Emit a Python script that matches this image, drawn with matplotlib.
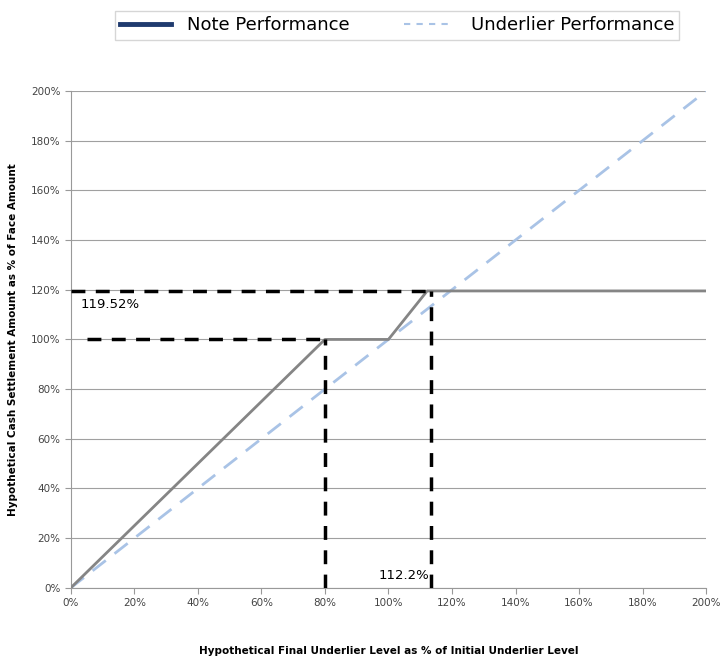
import numpy as np
import matplotlib.pyplot as plt
from matplotlib.lines import Line2D
from matplotlib.ticker import PercentFormatter

# values in percent
note_x = [0, 80, 100, 112.2, 200]
note_y = [0, 100, 100, 119.52, 119.52]
under_x = [0, 200]
under_y = [0, 200]
cap_level = 119.52
cap_x = 113.5
floor_x = 80
floor_level = 100

fig = plt.figure(figsize=(7.22, 6.62), dpi=100)
ax = fig.add_axes([0.098, 0.112, 0.88, 0.7505])

ax.plot(under_x, under_y, color='#a9c3e6', lw=2, dashes=(6, 4), zorder=3)
ax.plot(note_x, note_y, color='#858585', lw=2, zorder=4)

# reference dashed lines
blk = dict(color='black', lw=2.5, dashes=(4, 3), zorder=5)
ax.plot([0, cap_x], [cap_level, cap_level], **blk)
ax.plot([cap_x, cap_x], [0, cap_level], **blk)
ax.plot([5, floor_x], [floor_level, floor_level], **blk)
ax.plot([floor_x, floor_x], [0, floor_level], **blk)

ax.text(3, 114, '119.52%', fontsize=9.5, va='center', ha='left')
ax.text(113, 5, '112.2%', fontsize=9.5, va='center', ha='right')

ax.set_xlim(0, 200)
ax.set_ylim(0, 200)
ax.set_xticks(np.arange(0, 201, 20))
ax.set_yticks(np.arange(0, 201, 20))
ax.xaxis.set_major_formatter(PercentFormatter(decimals=0))
ax.yaxis.set_major_formatter(PercentFormatter(decimals=0))
ax.tick_params(labelsize=7.5, colors='#444444', length=4, color='#999999')
ax.grid(axis='y', color='#a0a0a0', lw=0.8)
ax.set_axisbelow(True)
for s in ['top', 'right']:
    ax.spines[s].set_visible(False)
for s in ['left', 'bottom']:
    ax.spines[s].set_color('#999999')

ax.set_xlabel('Hypothetical Final Underlier Level as % of Initial Underlier Level',
              fontsize=7.5, fontweight='bold', labelpad=27)
ax.set_ylabel('Hypothetical Cash Settlement Amount as % of Face Amount',
              fontsize=7.5, fontweight='bold', labelpad=9)

handles = [Line2D([], [], color='#1f3a6e', lw=3.5),
           Line2D([], [], color='#a9c3e6', lw=1.5, dashes=(3, 3))]
fig.legend(handles, ['Note Performance', 'Underlier Performance'],
           loc='upper center', bbox_to_anchor=(0.55, 0.997), ncol=2,
           fontsize=13, frameon=True, fancybox=False, edgecolor='#cccccc',
           handlelength=2.8, handletextpad=0.9, columnspacing=3.0,
           borderpad=0.3)

fig.savefig('out.png', dpi=100)
